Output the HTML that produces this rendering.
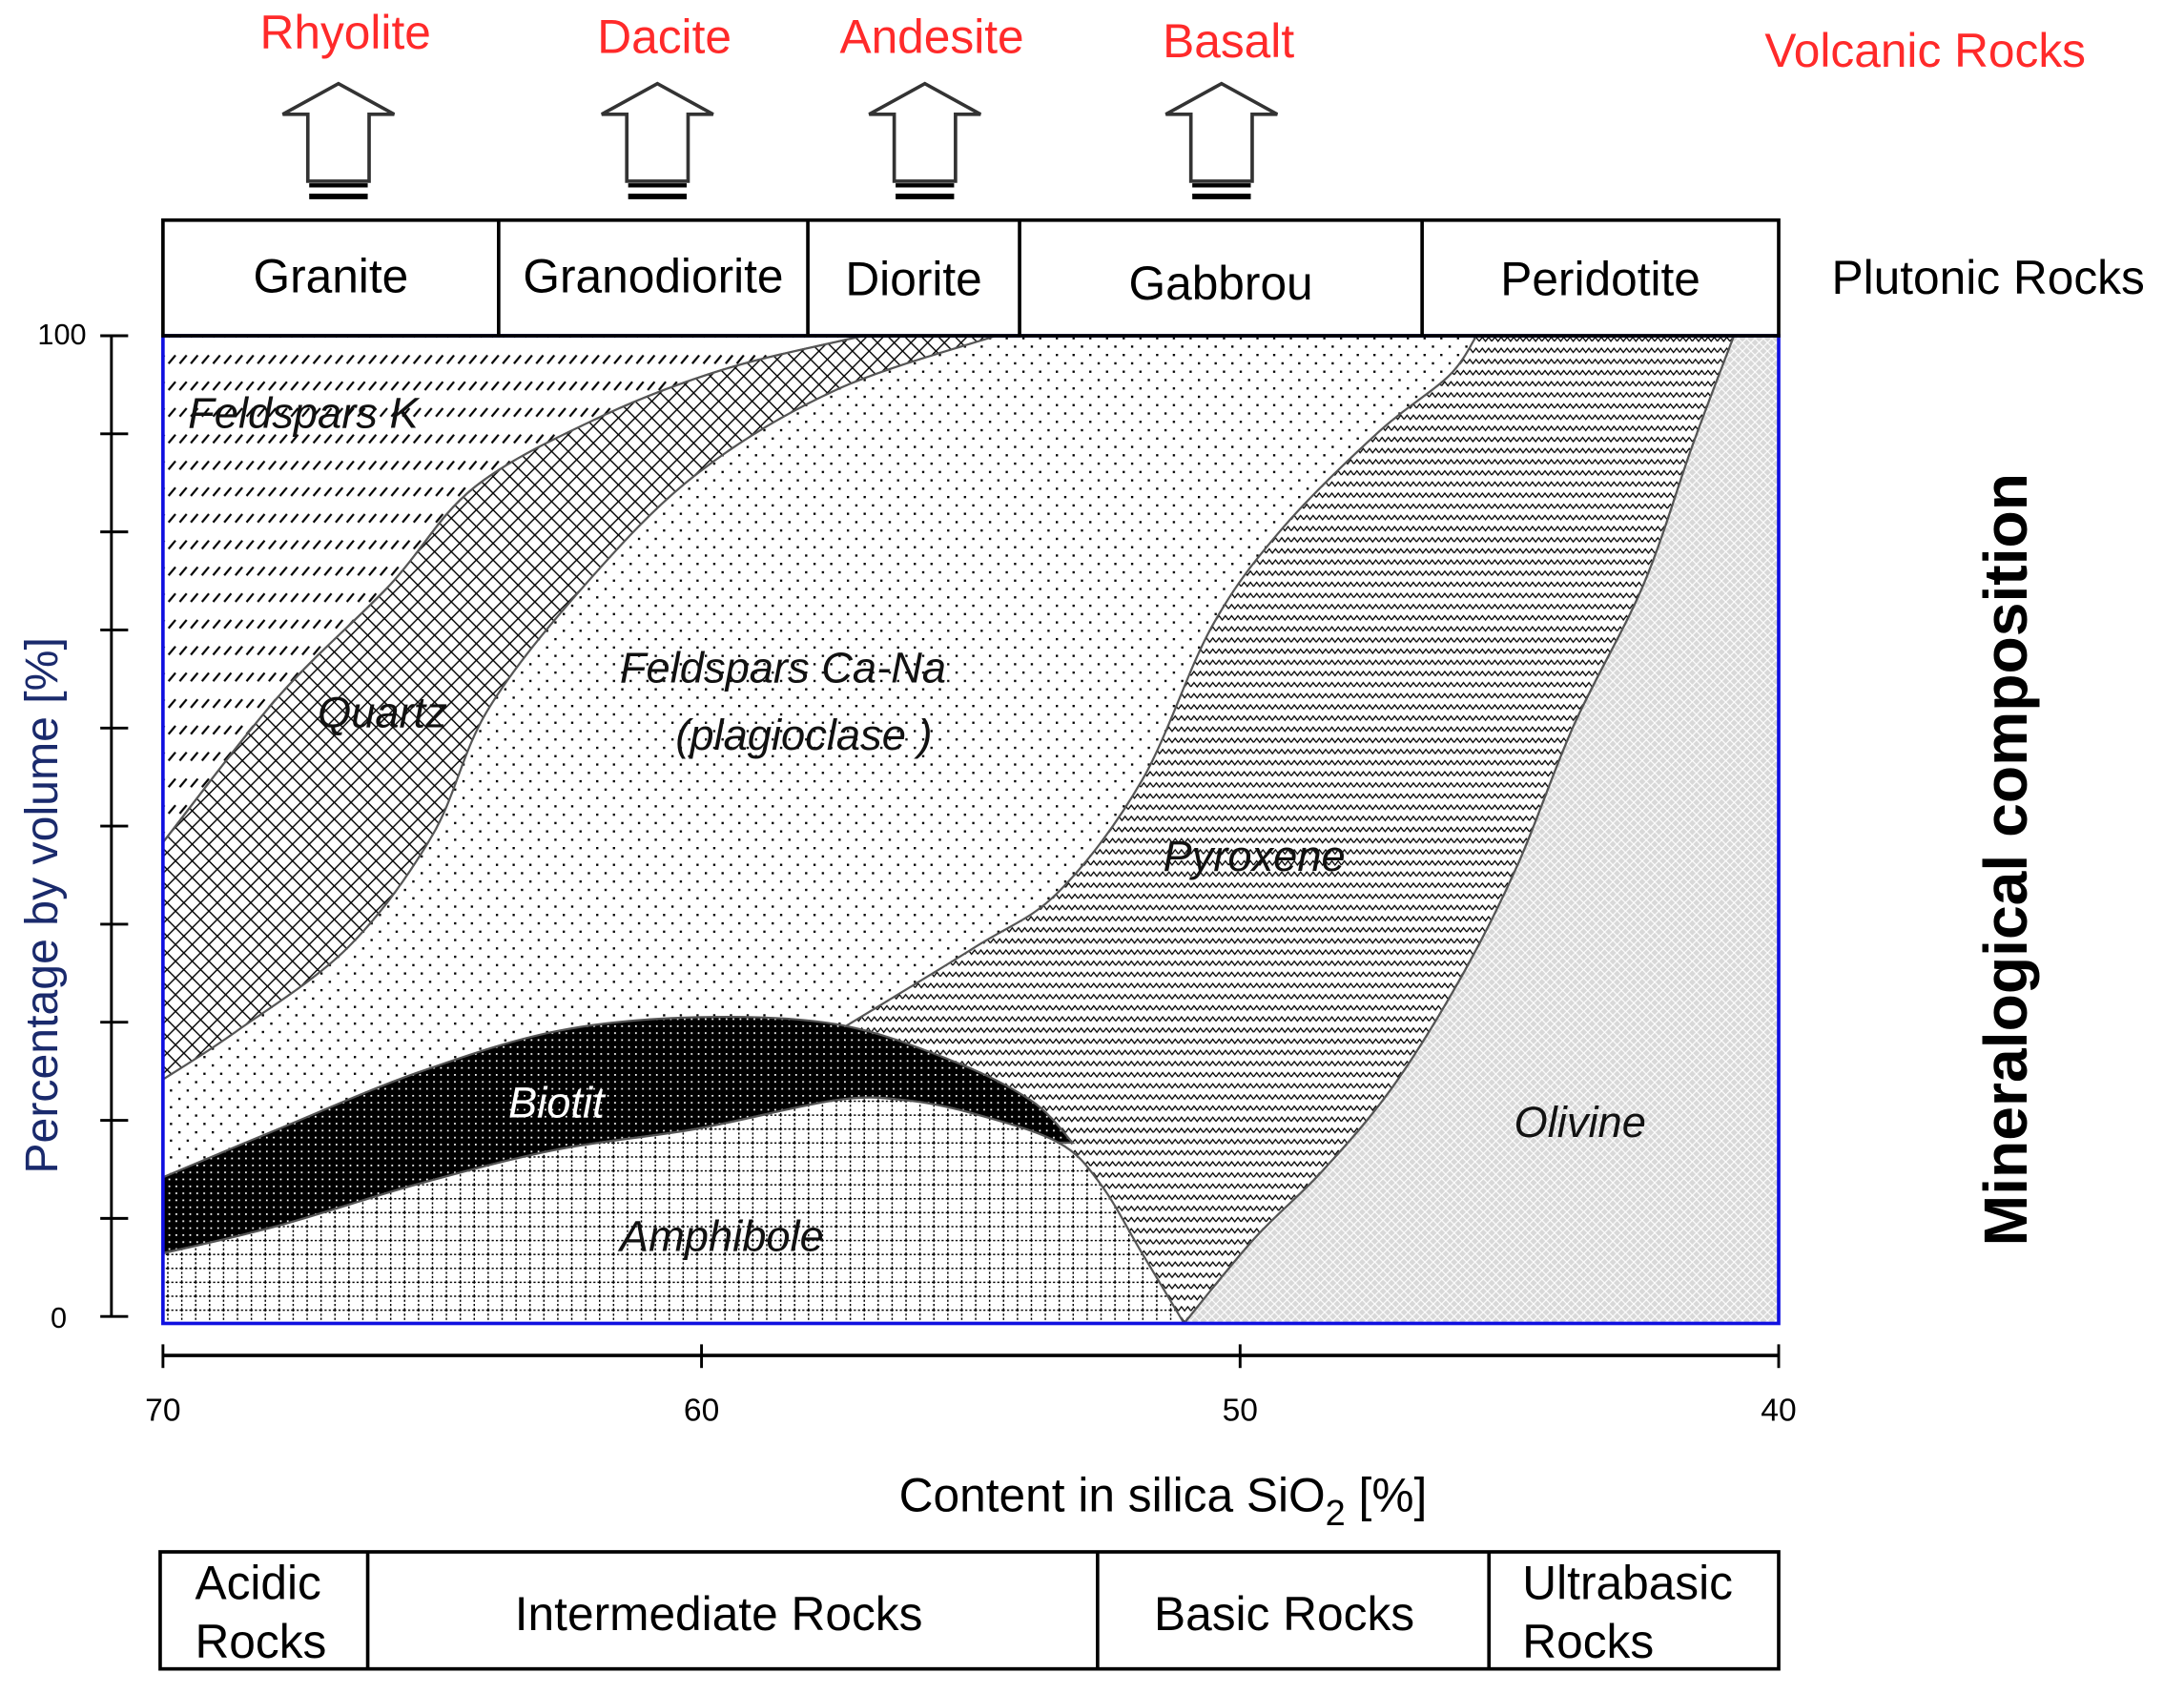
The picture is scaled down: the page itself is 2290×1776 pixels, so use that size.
<!DOCTYPE html>
<html><head><meta charset="utf-8"><style>
html,body{margin:0;padding:0;background:#fff}
svg{display:block}
text{font-family:"Liberation Sans",sans-serif}
</style></head><body>
<svg id="chart" width="2290" height="1776" viewBox="0 0 1568 1216" xmlns="http://www.w3.org/2000/svg">
<defs>
<pattern id="pPlag" width="12" height="12" patternUnits="userSpaceOnUse"><rect width="12" height="12" fill="#fff"/><rect x="2" y="2" width="1.6" height="1.6" fill="#000"/><rect x="8" y="8" width="1.6" height="1.6" fill="#000"/></pattern>
<pattern id="pFK" width="8" height="19" patternUnits="userSpaceOnUse"><rect width="8" height="19" fill="#fff"/><line x1="1" y1="14" x2="6" y2="8" stroke="#000" stroke-width="1.5"/></pattern>
<pattern id="pQz" width="12" height="12" patternUnits="userSpaceOnUse"><rect width="12" height="12" fill="#fff"/><path d="M0 0L12 12M12 0L0 12" stroke="#000" stroke-width="1"/></pattern>
<pattern id="pPy" width="9" height="8" patternUnits="userSpaceOnUse"><rect width="9" height="8" fill="#fff"/><path d="M0 5L2.25 2L4.5 5L6.75 2L9 5" stroke="#000" stroke-width="0.9" fill="none"/></pattern>
<pattern id="pOl" width="6" height="6" patternUnits="userSpaceOnUse"><rect width="6" height="6" fill="#d8d8d8"/><path d="M0 3L3 0L6 3L3 6Z" stroke="#fff" stroke-width="0.8" fill="none"/></pattern>
<pattern id="pBi" width="5" height="5" patternUnits="userSpaceOnUse"><rect width="5" height="5" fill="#000"/><rect x="1" y="1" width="1.2" height="1.2" fill="#fff"/></pattern>
<pattern id="pAm" width="10" height="10" patternUnits="userSpaceOnUse"><rect width="10" height="10" fill="#fff"/><path d="M0 0.5H10M0.5 0V10" stroke="#000" stroke-width="1" stroke-dasharray="1.5 1.5"/></pattern>
</defs>
<g id="plot"></g>
<g id="overlay"></g>
</svg>
<script>
// Boundary curves: SiO2 (%) values and volume percentages
const fkQzSi  = [70, 67.85, 65.78, 64.23, 61.91, 59.58, 56.99];
const fkQzPct = [48.7, 63.5, 74.8, 84.6, 91.7, 96.6, 100];
const qzPlSi  = [70, 68.63, 66.56, 65.0, 63.97, 62.16, 60.09, 57.51, 54.53];
const qzPlPct = [24.7, 29.6, 38.1, 49.4, 62.1, 74.8, 86.0, 94.5, 100];
const plPySi  = [57.38, 54.92, 53.37, 51.82, 50.53, 49.23, 47.42, 46.13, 45.61];
const plPyPct = [29.9, 38.1, 43.7, 55.0, 70.5, 80.4, 90.3, 95.9, 100];
const pyOlSi  = [51.04, 49.75, 48.46, 47.16, 45.87, 44.84, 43.80, 42.51, 41.60, 40.83];
const pyOlPct = [0, 8.5, 15.5, 24.0, 35.3, 46.5, 60.6, 74.8, 88.9, 100];
const bioTopSi  = [70, 67.85, 65.27, 62.68, 60.09, 57.51, 55.44, 53.89, 53.11];
const bioTopPct = [14.8, 19.7, 25.4, 29.6, 31.0, 30.3, 26.8, 22.6, 18.3];
const amTopSi  = [70, 67.85, 65.27, 62.68, 60.09, 57.51, 56.22, 54.92, 53.37, 52.59, 51.82, 51.04];
const amTopPct = [7.1, 9.9, 14.1, 17.6, 19.7, 22.6, 22.6, 21.2, 18.3, 14.1, 7.1, 0];
const xTicks = [70, 60, 50, 40];
const yTickCount = 10;
const yTickLabels = ["100", "0"];

const X0=117, X1=1277, Y0=241, Y1=950;
function sx(s){ return X0 + (70 - s) * (X1 - X0) / 30; }
function sy(p){ return Y1 - p * (Y1 - Y0) / 100; }
function pts(si, pc){ return si.map((s,i)=>[sx(s), sy(pc[i])]); }
function smooth(P){
  let d = `M${P[0][0]},${P[0][1]}`;
  for(let i=0;i<P.length-1;i++){
    const p0=P[Math.max(0,i-1)], p1=P[i], p2=P[i+1], p3=P[Math.min(P.length-1,i+2)];
    const c1=[p1[0]+(p2[0]-p0[0])/6, p1[1]+(p2[1]-p0[1])/6];
    const c2=[p2[0]-(p3[0]-p1[0])/6, p2[1]-(p3[1]-p1[1])/6];
    d += `C${c1[0]},${c1[1]} ${c2[0]},${c2[1]} ${p2[0]},${p2[1]}`;
  }
  return d;
}
function rev(P){ return P.slice().reverse(); }
function curveTo(P){ return smooth(P).replace(/^M/,'L'); }
const NS="http://www.w3.org/2000/svg";
const plot=document.getElementById('plot');
function region(name, d, fill, stroke){
  const e=document.createElementNS(NS,'path');
  e.setAttribute('d', d);
  e.setAttribute('fill', fill);
  e.setAttribute('stroke', stroke||'#555');
  e.setAttribute('stroke-width','1.5');
  
  
  plot.appendChild(e);
}
const bFK=pts(fkQzSi,fkQzPct), bQ=pts(qzPlSi,qzPlPct), bP=pts(plPySi,plPyPct), bO=pts(pyOlSi,pyOlPct);
const bB=pts(bioTopSi,bioTopPct), bA=pts(amTopSi,amTopPct);
// plagioclase background
region('plagioclase-region', `M${X0},${Y0}H${X1}V${Y1}H${X0}Z`, 'url(#pPlag)', 'none');
// feldspar K
region('feldspar-k-region', `M${X0},${Y0}L${bFK[0][0]},${bFK[0][1]}`+curveTo(bFK)+'Z', 'url(#pFK)');
// quartz
region('quartz-region', smooth(bFK)+curveTo(rev(bQ))+'Z', 'url(#pQz)');
// pyroxene
region('pyroxene-region', smooth(bP)+`L${bO[bO.length-1][0]},${bO[bO.length-1][1]}`+curveTo(rev(bO))+`L700,${Y1}Z`, 'url(#pPy)');
// olivine
region('olivine-region', smooth(bO)+`L${X1},${Y0}L${X1},${Y1}Z`, 'url(#pOl)');
// biotite
const aPart=bA.slice(0,9);
region('biotite-region', smooth(bB)+curveTo(rev(aPart))+'Z', 'url(#pBi)');
// amphibole
region('amphibole-region', smooth(bA)+`L${X0},${Y1}Z`, 'url(#pAm)');
// plot frame
const fr=document.createElementNS(NS,'rect');
fr.setAttribute('x',X0);fr.setAttribute('y',Y0);fr.setAttribute('width',X1-X0);fr.setAttribute('height',Y1-Y0);
fr.setAttribute('fill','none');fr.setAttribute('stroke','#1010e0');fr.setAttribute('stroke-width','2.5');


plot.appendChild(fr);

const ov=document.getElementById('overlay');
function txt(name, x, y, s, attrs){
  const t=document.createElementNS(NS,'text');
  t.setAttribute('x',x);t.setAttribute('y',y);
  for(const k in attrs) t.setAttribute(k, attrs[k]);
  t.textContent=s;
  
  
  ov.appendChild(t);
  return t;
}
function line(name,x1,y1,x2,y2,w,c){
  const l=document.createElementNS(NS,'line');
  l.setAttribute('x1',x1);l.setAttribute('y1',y1);l.setAttribute('x2',x2);l.setAttribute('y2',y2);
  l.setAttribute('stroke',c||'#000');l.setAttribute('stroke-width',w||2);
  
  
  ov.appendChild(l);
}
// region labels
const it={'font-size':31,'font-style':'italic','fill':'#111'};
txt('feldspar-k-label',135,307,'Feldspars  K',it);
txt('quartz-label',228,522,'Quartz',it);
txt('plagioclase-label',445,490,'Feldspars  Ca-Na',it);
txt('plagioclase-sub-label',485,538,'(plagioclase )',it);
txt('pyroxene-label',835,625,'Pyroxene',it);
txt('biotite-label',365,802,'Biotit',Object.assign({},it,{fill:'#fff'}));
txt('amphibole-label',445,898,'Amphibole',it);
txt('olivine-label',1087,816,'Olivine',it);

// y axis
line('y-axis-line',80,Y0,80,Y1-5,2);
for(let i=0;i<=yTickCount;i++){
  const y=Y0+i*(Y1-5-Y0)/yTickCount;
  line('y-tick',72,y,92,y,2);
}
txt('y-tick-label-100',62,247,yTickLabels[0],{'font-size':21,'text-anchor':'end'});
txt('y-tick-label-0',48,953,yTickLabels[1],{'font-size':21,'text-anchor':'end'});
const yt=txt('y-axis-title',0,0,'Percentage by volume  [%]',{'font-size':33,'fill':'#1a2a6c','text-anchor':'middle','transform':'translate(41,650) rotate(-90)'});

// x axis
line('x-axis-line',X0,973,X1,973,2.5);
xTicks.forEach(v=>{
  line('x-tick',sx(v),965,sx(v),982,2);
  txt('x-tick-label',sx(v),1020,String(v),{'font-size':23,'text-anchor':'middle'});
});
txt('x-axis-title',835,1085,'',{'font-size':34,'text-anchor':'middle'}).innerHTML='Content in silica SiO<tspan font-size="26" dy="10">2</tspan><tspan dy="-10"> [%]</tspan>';

txt('mineralogical-title',0,0,'Mineralogical composition',{'font-size':44,'font-weight':'bold','text-anchor':'middle','transform':'translate(1455,617) rotate(-90)'});

// plutonic boxes
const plutX=[117,358,580,732,1021,1277];
const plutNames=['Granite','Granodiorite','Diorite','Gabbrou','Peridotite'];
const plutTY=[210,210,212,215,212];
const r=document.createElementNS(NS,'rect');
r.setAttribute('x',117);r.setAttribute('y',158);r.setAttribute('width',1160);r.setAttribute('height',83);
r.setAttribute('fill','none');r.setAttribute('stroke','#000');r.setAttribute('stroke-width',2.5);


ov.appendChild(r);
for(let i=0;i<plutNames.length;i++){
  if(i>0) line('plutonic-divider',plutX[i],158,plutX[i],241,2.5);
  txt('plutonic-'+plutNames[i].toLowerCase(),(plutX[i]+plutX[i+1])/2,plutTY[i],plutNames[i],{'font-size':34,'text-anchor':'middle'});
}
txt('plutonic-rocks-label',1315,211,'Plutonic Rocks',{'font-size':34});

// volcanic labels & arrows
const volcX=[243,472,664,877];
const volcNames=['Rhyolite','Dacite','Andesite','Basalt'];
const volcTY=[35,38,38,41];
volcNames.forEach((n,i)=>{
  const cx=volcX[i];
  txt('volcanic-'+n.toLowerCase(),cx+5,volcTY[i],n,{'font-size':34,'fill':'#ff2a2a','text-anchor':'middle'});
  const a=document.createElementNS(NS,'path');
  a.setAttribute('d',`M${cx},60L${cx+40},82H${cx+22}V130H${cx-22}V82H${cx-40}Z`);
  a.setAttribute('fill','#fff');a.setAttribute('stroke','#333');a.setAttribute('stroke-width','2.5');
  
  
  ov.appendChild(a);
  line('arrow-bar',cx-21,133,cx+21,133,3);
  line('arrow-bar',cx-21,141,cx+21,141,4);
});
txt('volcanic-rocks-label',1267,48,'Volcanic Rocks',{'font-size':34,'fill':'#ff2a2a'});

// bottom classification
const r2=document.createElementNS(NS,'rect');
r2.setAttribute('x',115);r2.setAttribute('y',1114);r2.setAttribute('width',1162);r2.setAttribute('height',84);
r2.setAttribute('fill','none');r2.setAttribute('stroke','#000');r2.setAttribute('stroke-width',2.5);


ov.appendChild(r2);
[264,788,1069].forEach(x=>line('rock-class-divider',x,1114,x,1198,2.5));
txt('acidic-rocks-label-1',140,1148,'Acidic',{'font-size':34});
txt('acidic-rocks-label-2',140,1190,'Rocks',{'font-size':34});
txt('intermediate-rocks-label',516,1170,'Intermediate Rocks',{'font-size':34,'text-anchor':'middle'});
txt('basic-rocks-label',922,1170,'Basic Rocks',{'font-size':34,'text-anchor':'middle'});
txt('ultrabasic-rocks-label-1',1093,1148,'Ultrabasic',{'font-size':34});
txt('ultrabasic-rocks-label-2',1093,1190,'Rocks',{'font-size':34});
</script>
</body></html>
